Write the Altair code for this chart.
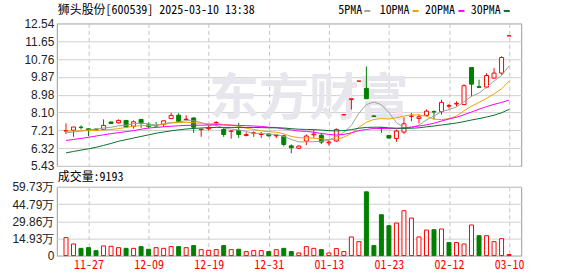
import json
import altair as alt
import pandas as pd

# ---------------- data ----------------
opens = [7.17, 7.21, 7.36, 7.28, 7.26, 7.25, 7.62, 7.58, 7.70, 7.41,
         7.75, 7.48, 7.45, 7.50, 7.79, 7.96, 7.74, 7.82, 7.24, 7.28,
         7.58, 7.25, 7.16, 7.20, 6.95, 7.05, 7.00, 7.02, 6.93, 6.93,
         6.43, 6.31, 6.67, 6.98, 6.96, 6.58, 6.67, 7.98, 8.74, 9.66,
         9.30, 7.92, 7.33, 6.95, 6.80, 7.12, 7.90, 7.80, 7.95, 8.14,
         8.14, 8.41, 8.52, 8.49, 10.34, 9.38, 9.36, 9.81, 10.06, 11.92]
highs = [7.55, 7.38, 7.45, 7.30, 7.32, 7.75, 7.64, 7.75, 7.72, 7.70,
         7.77, 7.60, 7.62, 7.70, 8.08, 8.06, 7.96, 7.86, 7.28, 7.46,
         7.66, 7.36, 7.20, 7.58, 7.10, 7.16, 7.12, 7.05, 7.00, 6.98,
         6.50, 6.44, 7.00, 7.25, 7.08, 6.75, 7.30, 7.98, 8.78, 9.66,
         10.39, 7.96, 7.33, 6.95, 7.25, 7.86, 8.07, 8.00, 8.25, 8.20,
         8.73, 8.52, 8.65, 9.50, 10.34, 9.73, 10.05, 10.31, 10.90, 11.92]
lows = [7.02, 6.88, 7.25, 6.92, 7.17, 7.22, 7.52, 7.55, 7.32, 7.29,
        7.33, 7.30, 7.38, 7.38, 7.77, 7.60, 7.72, 7.08, 6.88, 7.20,
        7.40, 6.88, 6.79, 6.83, 6.90, 6.88, 6.83, 6.90, 6.82, 6.40,
        6.06, 6.29, 6.47, 6.83, 6.52, 6.45, 6.62, 7.98, 8.24, 9.66,
        8.78, 7.90, 7.08, 6.82, 6.63, 7.03, 7.66, 7.55, 7.90, 7.75,
        7.99, 8.29, 8.40, 8.49, 8.90, 9.31, 9.30, 9.78, 9.98, 11.92]
closes = [7.19, 7.37, 7.35, 7.22, 7.22, 7.45, 7.55, 7.70, 7.37, 7.63,
          7.55, 7.40, 7.42, 7.68, 7.95, 7.63, 7.76, 7.36, 7.26, 7.32,
          7.60, 7.00, 7.17, 7.00, 6.99, 7.08, 7.03, 6.93, 6.96, 6.50,
          6.34, 6.42, 6.92, 7.02, 6.62, 6.62, 7.25, 7.98, 8.78, 9.66,
          8.78, 7.90, 7.30, 6.82, 7.17, 7.53, 7.92, 7.88, 8.16, 8.12,
          8.60, 8.44, 8.55, 9.43, 9.51, 9.35, 9.94, 10.06, 10.84, 11.92]
# volume in 万 (10k shares)
volumes = [15.6, 10.1, 6.3, 6.9, 4.3, 8.4, 8.1, 6.9, 6.3, 6.3,
           7.8, 5.5, 6.9, 6.3, 7.8, 7.8, 6.9, 8.7, 5.2, 4.6,
           5.2, 8.7, 5.2, 5.5, 3.5, 4.3, 4.3, 3.5, 5.2, 6.3,
           3.5, 2.3, 7.8, 6.3, 5.2, 2.3, 6.1, 3.5, 16.2, 12.1,
           55.4, 8.7, 35.5, 26.0, 28.3, 39.0, 32.6, 16.2, 22.2, 22.5,
           23.1, 11.3, 11.3, 10.1, 26.6, 17.3, 17.3, 12.1, 14.7, 0.92]
# 1 = red (up vs previous close), 0 = green
vol_up = [1, 1, 0, 0, 0, 1, 1, 1, 0, 1,
          0, 0, 1, 1, 1, 0, 1, 0, 1, 1,
          1, 0, 1, 0, 1, 1, 1, 0, 1, 0,
          0, 1, 1, 1, 0, 1, 1, 1, 1, 1,
          0, 0, 0, 0, 1, 1, 1, 1, 1, 0,
          1, 0, 1, 1, 1, 0, 1, 1, 1, 1]
ma5 = [7.08, 7.12, 7.17, 7.22, 7.27, 7.32, 7.36, 7.43, 7.46, 7.54,
       7.56, 7.53, 7.47, 7.54, 7.60, 7.62, 7.69, 7.68, 7.59, 7.47,
       7.46, 7.31, 7.27, 7.22, 7.15, 7.05, 7.05, 7.01, 7.00, 6.90,
       6.75, 6.63, 6.63, 6.64, 6.66, 6.72, 6.89, 7.10, 7.45, 8.06,
       8.49, 8.62, 8.48, 8.09, 7.59, 7.34, 7.35, 7.46, 7.73, 7.92,
       8.14, 8.24, 8.37, 8.63, 8.91, 9.06, 9.36, 9.66, 9.94, 10.42]
ma10 = [7.16, 7.17, 7.18, 7.19, 7.20, 7.22, 7.25, 7.29, 7.35, 7.41,
        7.44, 7.44, 7.45, 7.50, 7.57, 7.59, 7.61, 7.58, 7.56, 7.53,
        7.54, 7.50, 7.47, 7.41, 7.31, 7.25, 7.18, 7.14, 7.11, 7.03,
        6.90, 6.84, 6.82, 6.82, 6.78, 6.74, 6.76, 6.86, 7.05, 7.36,
        7.61, 7.75, 7.79, 7.77, 7.83, 7.92, 7.98, 7.97, 7.91, 7.76,
        7.74, 7.79, 7.92, 8.18, 8.41, 8.60, 8.80, 9.02, 9.28, 9.66]
ma20 = [6.70, 6.75, 6.80, 6.86, 6.92, 6.98, 7.04, 7.09, 7.14, 7.19,
        7.26, 7.32, 7.35, 7.38, 7.41, 7.43, 7.45, 7.46, 7.46, 7.47,
        7.49, 7.47, 7.46, 7.45, 7.44, 7.42, 7.40, 7.36, 7.34, 7.28,
        7.22, 7.17, 7.15, 7.11, 7.05, 7.00, 6.97, 7.00, 7.08, 7.19,
        7.25, 7.30, 7.30, 7.30, 7.30, 7.33, 7.37, 7.42, 7.48, 7.56,
        7.67, 7.77, 7.86, 7.98, 8.12, 8.26, 8.39, 8.50, 8.60, 8.71]
ma30 = [6.08, 6.15, 6.22, 6.28, 6.36, 6.45, 6.55, 6.66, 6.74, 6.82,
        6.90, 6.98, 7.06, 7.12, 7.18, 7.23, 7.27, 7.30, 7.32, 7.34,
        7.35, 7.35, 7.35, 7.35, 7.35, 7.35, 7.34, 7.33, 7.33, 7.32,
        7.29, 7.26, 7.25, 7.24, 7.22, 7.19, 7.18, 7.19, 7.24, 7.31,
        7.35, 7.36, 7.36, 7.33, 7.31, 7.30, 7.31, 7.33, 7.38, 7.42,
        7.47, 7.52, 7.57, 7.64, 7.72, 7.79, 7.87, 7.96, 8.08, 8.25]

price_ticks = [12.54, 11.65, 10.76, 9.87, 8.98, 8.10, 7.21, 6.32, 5.43]
vol_ticks = [0, 14.93, 29.86, 44.79, 59.73]
date_tick_idx = [3, 11, 19, 27, 35, 43, 51, 59]
date_tick_labels = ["11-27", "12-09", "12-19", "12-31", "01-13", "01-23", "02-12", "03-10"]
title_text = "狮头股份[600539] 2025-03-10 13:38"
vol_title = "成交量:9193"
watermark = "东方财富"
ma_keys = ["ma5", "ma10", "ma20", "ma30"]
ma_names = ["5PMA", "10PMA", "20PMA", "30PMA"]

# ---------------- styles / layout ----------------
RED = "#ff0000"
GREEN = "#008000"
ma_colors = ["#a0a0a0", "#f0a000", "#ff00ff", "#0a6e32"]
MONO = "Noto Sans Mono CJK SC, Noto Sans CJK SC, DejaVu Sans Mono, sans-serif"
SANS = "Liberation Sans, Arial, sans-serif"
W, PH, VH = 466, 143, 69
LEFT, TOP = 56, 22
legend_label_x = [282.5, 324, 369.5, 415.5]
legend_dash_x = [308.5, 357, 403, 448.5]

df = pd.DataFrame({
    "i": list(range(len(closes))),
    "open": opens, "high": highs, "low": lows, "close": closes,
    "vol": volumes, "vup": vol_up,
    "ma5": ma5, "ma10": ma10, "ma20": ma20, "ma30": ma30,
})
one = pd.DataFrame({"t": [""]})

xscale = alt.Scale(domain=[-0.56, 59.95], nice=False, zero=False)
pscale = alt.Scale(domain=[price_ticks[-1], price_ticks[0]], nice=False, zero=False)
vscale = alt.Scale(domain=[0, vol_ticks[-1]], nice=False)

grid_x = dict(values=date_tick_idx, ticks=False, domain=False, grid=True,
              gridDash=[4, 3], gridColor="#c4c4c4", title=None)
x_price_axis = alt.Axis(labels=False, **grid_x)
label_expr = "%s[indexof(%s, datum.value)]" % (json.dumps(date_tick_labels), json.dumps(date_tick_idx))
x_vol_axis = alt.Axis(labelExpr=label_expr, labelColor=RED, labelFont=MONO, labelFontSize=12,
                      labelPadding=4, **grid_x)
y_price_axis = alt.Axis(values=price_ticks, format=".2f", ticks=False, domain=False, grid=True,
                        gridColor="#d0d0d0", labelPadding=3, title=None)
y_vol_axis = alt.Axis(values=vol_ticks, ticks=False, domain=False, grid=True, gridColor="#d0d0d0",
                      labelPadding=3, title=None,
                      labelExpr="datum.value == 0 ? '0' : format(datum.value, '.2f') + '万'")

X = alt.X("i:Q", scale=xscale, axis=x_price_axis)
up_test = "datum.close >= datum.open"

base = alt.Chart(df)

wm = alt.Chart(pd.DataFrame({"t": [watermark]})).mark_text(
    fontSize=50, fontWeight="bold", font="Noto Sans CJK SC", color="#e6e6ec",
    align="center", baseline="middle").encode(x=alt.value(253), y=alt.value(77), text="t:N")

wick = base.mark_rule(strokeWidth=1).encode(
    x=X,
    y=alt.Y("low:Q", scale=pscale, axis=y_price_axis),
    y2="high:Q",
    color=alt.condition(up_test, alt.value(RED), alt.value(GREEN)),
)
body = base.mark_bar(size=4, strokeWidth=1).encode(
    x=X,
    y=alt.Y("open:Q", scale=pscale, axis=y_price_axis),
    y2="close:Q",
    fill=alt.condition(up_test, alt.value("white"), alt.value(GREEN)),
    stroke=alt.condition(up_test, alt.value(RED), alt.value(GREEN)),
)
ma_lines = base.transform_fold(ma_keys, as_=["ma", "val"]).mark_line(strokeWidth=1).encode(
    x=X,
    y=alt.Y("val:Q", scale=pscale, axis=y_price_axis),
    color=alt.Color("ma:N", scale=alt.Scale(domain=ma_keys, range=ma_colors), legend=None),
    detail="ma:N",
)
header = alt.Chart(pd.DataFrame({"t": [title_text]})).mark_text(
    align="left", baseline="middle", fontSize=12, font=MONO, color="#000000").encode(
    x=alt.value(1), y=alt.value(-13.5), text="t:N")

legend_layers = []
for name, col, lx, dx in zip(ma_names, ma_colors, legend_label_x, legend_dash_x):
    legend_layers.append(
        alt.Chart(pd.DataFrame({"t": [name]})).mark_text(
            align="left", baseline="middle", fontSize=12, font=MONO, color="#000000").encode(
            x=alt.value(lx), y=alt.value(-13), text="t:N"))
    legend_layers.append(
        alt.Chart(one).mark_rule(strokeWidth=2, color=col).encode(
            x=alt.value(dx), x2=alt.value(dx + 6), y=alt.value(-12.5)))

bound_top = alt.Chart(one).mark_rule(opacity=0).encode(
    x=alt.value(-LEFT), x2=alt.value(578 - LEFT), y=alt.value(-TOP))

price = alt.layer(wm, wick, body, ma_lines, header, *legend_layers, bound_top).properties(
    width=W, height=PH)

XV = alt.X("i:Q", scale=xscale, axis=x_vol_axis)
vbars = base.mark_bar(size=4, strokeWidth=1).encode(
    x=XV,
    y=alt.Y("vol:Q", scale=vscale, axis=y_vol_axis),
    fill=alt.condition("datum.vup == 1", alt.value("white"), alt.value(GREEN)),
    stroke=alt.condition("datum.vup == 1", alt.value(RED), alt.value(GREEN)),
)
vtitle = alt.Chart(pd.DataFrame({"t": [vol_title]})).mark_text(
    align="left", baseline="middle", fontSize=12, font=MONO, color="#000000").encode(
    x=alt.value(1), y=alt.value(-9.5), text="t:N")
bound_bottom = alt.Chart(one).mark_rule(opacity=0).encode(
    x=alt.value(0), x2=alt.value(10), y=alt.value(276 - (TOP + PH + 21)))

volume = alt.layer(vbars, vtitle, bound_bottom).properties(width=W, height=VH)

chart = alt.vconcat(price, volume, spacing=21, bounds="flush").properties(
    padding=0, autosize=alt.AutoSizeParams(type="pad"), background="white"
).configure_view(
    stroke="#9a9a9a", strokeWidth=1
).configure_axis(
    labelFont=SANS, labelFontSize=12, labelColor="#222222"
)

chart.save("out.html", embed_options={"renderer": "svg", "actions": False})
